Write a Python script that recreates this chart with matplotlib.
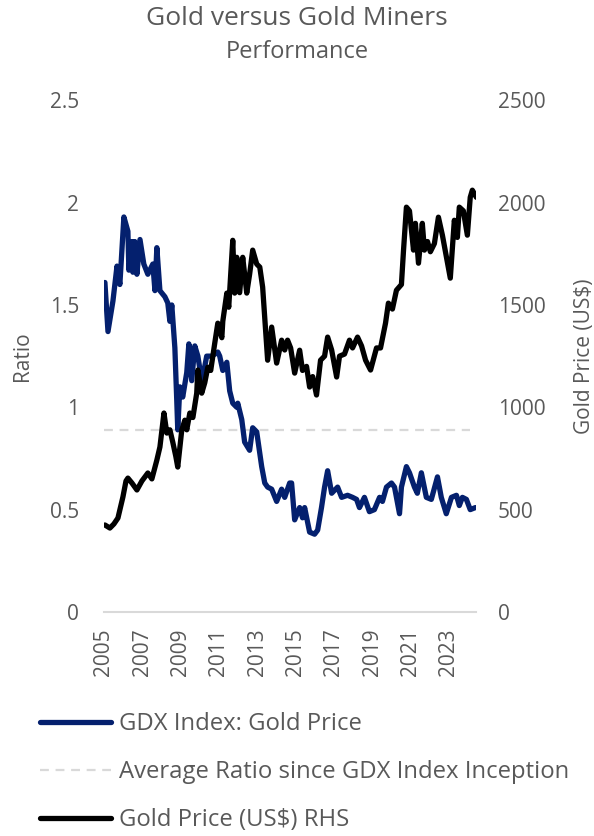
import matplotlib
matplotlib.use("Agg")
import matplotlib.pyplot as plt
from matplotlib.lines import Line2D

plt.rcParams['font.family'] = ['Open Sans', 'DejaVu Sans']

# GDX Index : Gold Price ratio (decimal year, ratio)
ratio_years = [2005.05, 2005.21, 2005.47, 2005.68, 2005.83, 2006.04, 2006.25, 2006.30,
               2006.46, 2006.51, 2006.61, 2006.72, 2006.88, 2007.08, 2007.29, 2007.55,
               2007.66, 2007.76, 2007.92, 2008.18, 2008.33, 2008.44, 2008.54, 2008.70,
               2008.80, 2008.85, 2008.96, 2009.11, 2009.32, 2009.43, 2009.58, 2009.74,
               2009.90, 2010.10, 2010.26, 2010.36, 2010.63, 2010.94, 2011.04, 2011.20,
               2011.41, 2011.56, 2011.72, 2011.93, 2011.98, 2012.19, 2012.34, 2012.60,
               2012.76, 2012.97, 2013.23, 2013.39, 2013.54, 2013.75, 2014.01, 2014.27,
               2014.43, 2014.69, 2014.79, 2014.95, 2015.21, 2015.36, 2015.47, 2015.73,
               2015.99, 2016.15, 2016.35, 2016.51, 2016.67, 2016.88, 2017.19, 2017.40,
               2017.71, 2017.97, 2018.18, 2018.33, 2018.59, 2018.85, 2019.11, 2019.38,
               2019.53, 2019.74, 2020.00, 2020.16, 2020.42, 2020.52, 2020.78, 2020.94,
               2021.20, 2021.35, 2021.56, 2021.82, 2022.08, 2022.40, 2022.60, 2022.86,
               2023.13, 2023.39, 2023.54, 2023.70, 2023.91, 2024.11, 2024.38]
ratio_vals = [1.61, 1.37, 1.52, 1.69, 1.60, 1.93, 1.86, 1.67,
              1.81, 1.66, 1.81, 1.65, 1.82, 1.70, 1.65, 1.70,
              1.57, 1.78, 1.57, 1.54, 1.51, 1.42, 1.50, 1.29,
              1.03, 0.89, 1.10, 1.05, 1.17, 1.31, 1.13, 1.30,
              1.25, 1.13, 1.20, 1.25, 1.25, 1.27, 1.25, 1.18,
              1.22, 1.08, 1.02, 1.00, 1.02, 0.94, 0.83, 0.79,
              0.90, 0.88, 0.71, 0.63, 0.61, 0.60, 0.54, 0.60,
              0.56, 0.63, 0.63, 0.45, 0.51, 0.46, 0.51, 0.39,
              0.38, 0.40, 0.51, 0.61, 0.69, 0.58, 0.61, 0.56,
              0.57, 0.56, 0.55, 0.51, 0.56, 0.49, 0.50, 0.56,
              0.54, 0.61, 0.63, 0.61, 0.48, 0.61, 0.71, 0.68,
              0.61, 0.58, 0.68, 0.56, 0.55, 0.66, 0.56, 0.48,
              0.56, 0.57, 0.52, 0.56, 0.55, 0.50, 0.51]

# Gold price in US$ (decimal year, price)
gold_years = [2005.05, 2005.31, 2005.52, 2005.73, 2005.99, 2006.15, 2006.25, 2006.46,
              2006.72, 2006.98, 2007.29, 2007.50, 2007.76, 2007.92, 2008.13, 2008.28,
              2008.44, 2008.59, 2008.75, 2008.85, 2009.06, 2009.22, 2009.32, 2009.48,
              2009.64, 2009.84, 2009.90, 2010.10, 2010.26, 2010.42, 2010.57, 2010.78,
              2010.94, 2011.15, 2011.20, 2011.41, 2011.51, 2011.72, 2011.82, 2011.93,
              2012.08, 2012.24, 2012.34, 2012.45, 2012.60, 2012.76, 2012.97, 2013.13,
              2013.28, 2013.54, 2013.75, 2014.01, 2014.27, 2014.43, 2014.58, 2014.74,
              2014.95, 2015.21, 2015.36, 2015.57, 2015.73, 2015.89, 2016.09, 2016.30,
              2016.51, 2016.67, 2016.88, 2017.14, 2017.29, 2017.55, 2017.81, 2017.97,
              2018.23, 2018.44, 2018.65, 2018.91, 2019.22, 2019.43, 2019.69, 2019.84,
              2020.05, 2020.26, 2020.52, 2020.63, 2020.78, 2020.94, 2021.15, 2021.25,
              2021.41, 2021.61, 2021.72, 2021.88, 2022.03, 2022.24, 2022.45, 2022.66,
              2023.07, 2023.28, 2023.44, 2023.54, 2023.75, 2023.96, 2024.11, 2024.22,
              2024.43]
gold_vals = [425, 410, 430, 459, 562, 640, 654, 630,
             596, 640, 679, 650, 742, 806, 972, 874,
             890, 830, 760, 708, 889, 937, 890, 972,
             950, 1069, 1182, 1069, 1120, 1196, 1180, 1313,
             1411, 1340, 1420, 1558, 1489, 1816, 1558, 1733,
             1560, 1733, 1650, 1558, 1650, 1768, 1700, 1685,
             1587, 1230, 1392, 1216, 1328, 1280, 1328, 1290,
             1167, 1279, 1180, 1200, 1099, 1150, 1060, 1230,
             1250, 1343, 1280, 1148, 1250, 1260, 1328, 1290,
             1343, 1300, 1230, 1182, 1290, 1290, 1411, 1509,
             1480, 1572, 1600, 1768, 1978, 1960, 1768, 1899,
             1704, 1899, 1768, 1810, 1760, 1800, 1929, 1840,
             1631, 1914, 1830, 1978, 1960, 1841, 2026, 2061,
             2026]

avg_ratio = 0.89
avg_span = [2005.0, 2024.1]

year_ticks = [2005, 2007, 2009, 2011, 2013, 2015, 2017, 2019, 2021, 2023]
ratio_ticks = [0, 0.5, 1, 1.5, 2, 2.5]
ratio_labels = ['0', '0.5', '1', '1.5', '2', '2.5']
gold_ticks = [0, 500, 1000, 1500, 2000, 2500]

navy = '#04206e'
grey = '#595959'
dash_grey = '#d9d9d9'

fig = plt.figure(figsize=(5.94, 8.36), dpi=100)
ax = fig.add_axes([0.175, 0.268, 0.626, 0.612])
ax2 = ax.twinx()

ax.plot(avg_span, [avg_ratio, avg_ratio], color=dash_grey, lw=1.6, dashes=(4, 3))
ax.plot(ratio_years, ratio_vals, color=navy, lw=3.8, solid_joinstyle='round', solid_capstyle='round')
ax2.plot(gold_years, gold_vals, color='black', lw=3.8, solid_joinstyle='round', solid_capstyle='round')

ax.set_xlim(2005.0, 2024.4)
ax.set_ylim(0, 2.5)
ax2.set_ylim(0, 2500)

ax.set_xticks(year_ticks)
ax.set_xticklabels([str(y) for y in year_ticks], rotation=90)
ax.set_yticks(ratio_ticks)
ax.set_yticklabels(ratio_labels)
ax2.set_yticks(gold_ticks)

for a in (ax, ax2):
    for s in a.spines.values():
        s.set_visible(False)
    a.tick_params(length=0, labelsize=15, labelcolor=grey)
ax.spines['bottom'].set_visible(True)
ax.spines['bottom'].set_color(dash_grey)
ax.spines['bottom'].set_linewidth(1.5)
ax.tick_params(axis='x', pad=12)
ax.tick_params(axis='y', pad=18)
ax2.tick_params(axis='y', pad=16)

ax.set_ylabel('Ratio', fontsize=15, color=grey, labelpad=12)
ax2.set_ylabel('Gold Price (US$)', fontsize=15, color=grey, labelpad=20)

fig.text(0.5, 0.978, 'Gold versus Gold Miners', ha='center', va='center', fontsize=19, color=grey)
fig.text(0.5, 0.938, 'Performance', ha='center', va='center', fontsize=17, color=grey)

handles = [Line2D([], [], color=navy, lw=3.8, solid_capstyle='round'),
           Line2D([], [], color=dash_grey, lw=1.6, dashes=(4, 3)),
           Line2D([], [], color='black', lw=3.8, solid_capstyle='round')]
labels = ['GDX Index: Gold Price', 'Average Ratio since GDX Index Inception', 'Gold Price (US$) RHS']
fig.legend(handles, labels, loc='upper left', bbox_to_anchor=(0.067, 0.148), frameon=False,
           fontsize=17.2, labelcolor=grey, handlelength=3.0, handletextpad=0.33,
           labelspacing=1.0, borderaxespad=0, borderpad=0)

fig.savefig('out.png', dpi=100)
